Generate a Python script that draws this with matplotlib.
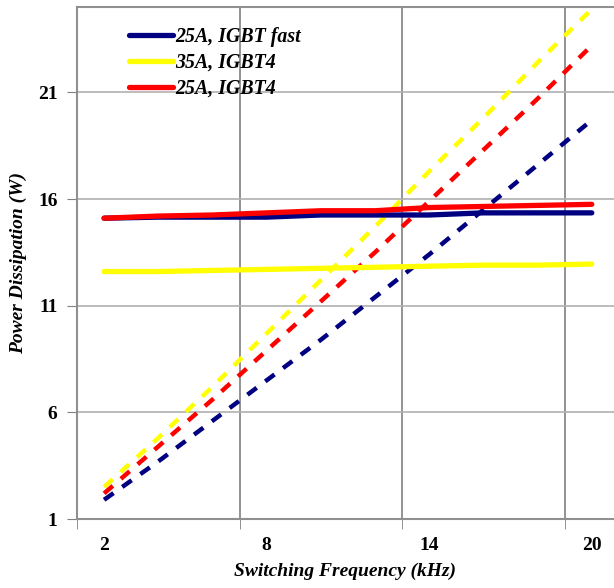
import numpy as np
import matplotlib.pyplot as plt

# switching frequency (kHz) and power dissipation (W)
freq = [2, 4, 6, 8, 10, 12, 14, 16, 18, 20]

# solid lines: conduction part
fast25_cond = [15.1, 15.15, 15.15, 15.15, 15.25, 15.25, 15.25, 15.35, 15.35, 15.35]
igbt4_35_cond = [12.6, 12.6, 12.65, 12.7, 12.75, 12.8, 12.85, 12.9, 12.9, 12.95]
igbt4_25_cond = [15.1, 15.2, 15.25, 15.35, 15.45, 15.45, 15.6, 15.65, 15.7, 15.75]

# dashed lines: switching part
fast25_sw = [1.9, 3.7, 5.6, 7.5, 9.4, 11.4, 13.4, 15.5, 17.6, 19.7]
igbt4_35_sw = [2.5, 4.8, 7.2, 9.7, 12.2, 14.7, 17.3, 19.8, 22.4, 24.9]
igbt4_25_sw = [2.2, 4.4, 6.6, 8.9, 11.2, 13.5, 15.9, 18.3, 20.7, 23.2]

labels = ["25A, IGBT fast", "35A, IGBT4", "25A, IGBT4"]
colors = ["#000080", "#FFFF00", "#FF0000"]

serif = ["Liberation Serif", "DejaVu Serif"]

fig = plt.figure(figsize=(6.14, 5.88), dpi=100)
ax = fig.add_axes([77/614, 69/588, 1 - 77/614, 512/588])

cond = [fast25_cond, igbt4_35_cond, igbt4_25_cond]
sw = [fast25_sw, igbt4_35_sw, igbt4_25_sw]

for y, c in zip(sw, colors):
    ax.plot(freq, y, color=c, lw=3.2, dashes=(2.6, 2.4), dash_capstyle="butt")
for y, c, lab in zip(cond, colors, labels):
    ax.plot(freq, y, color=c, lw=3.8, solid_capstyle="round", label=lab)

ax.set_xlim(1, 20.82)
ax.set_ylim(1, 25)

ax.set_xticks([2, 8, 14, 20])
ax.set_xticks([1, 7, 13, 19], minor=True)
ax.set_yticks([1, 6, 11, 16, 21])
ax.tick_params(axis="x", which="major", length=0, pad=13)
ax.tick_params(axis="x", which="minor", length=7, color="#808080", direction="out")
ax.tick_params(axis="y", length=7, color="#808080", direction="out", pad=7)
ax.grid(True, axis="x", which="minor", color="#808080", lw=1.2)
ax.grid(True, axis="y", which="major", color="#b0b0b0", lw=1.2)
ax.set_axisbelow(True)

for lbl in ax.get_xticklabels() + ax.get_yticklabels():
    lbl.set_fontfamily(serif)
    lbl.set_fontweight("bold")
    lbl.set_fontsize(14)

for s in ["left", "bottom", "top"]:
    ax.spines[s].set_color("#909090")
    ax.spines[s].set_linewidth(1.5)
ax.spines["right"].set_visible(False)

ax.set_xlabel("Switching Frequency (kHz)", family=serif, style="italic",
              fontweight="bold", fontsize=14, labelpad=6)
ax.set_ylabel("Power Dissipation (W)", family=serif, style="italic",
              fontweight="bold", fontsize=14, labelpad=8)

leg = ax.legend(loc="upper left", bbox_to_anchor=(0.063, 0.996), frameon=False,
                prop={"family": serif, "style": "italic", "weight": "bold", "size": 14.3},
                handlelength=2.25, handletextpad=0.08, labelspacing=0.3)

plt.savefig("out.png", dpi=100)
